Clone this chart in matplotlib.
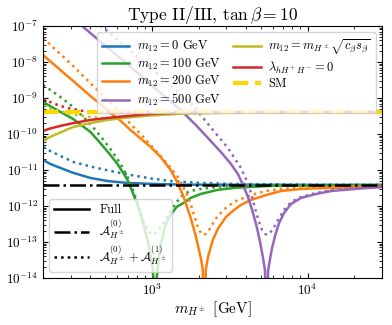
import matplotlib
matplotlib.use("Agg")
import matplotlib.pyplot as plt
from matplotlib.lines import Line2D
from matplotlib.ticker import LogLocator, NullFormatter

plt.rcParams['font.family'] = 'serif'
plt.rcParams['font.serif'] = ['cmr10']
plt.rcParams['mathtext.fontset'] = 'cm'
plt.rcParams['axes.formatter.use_mathtext'] = True

# values (mass in GeV, quantity on log axis)
sm_value = 4.1e-10
a0_value = 3.83e-12
x_range = [200, 30000]

m_blue = [200, 222, 258, 312, 402, 520, 697, 980, 1600, 30800]
blue_full = [1.9e-11, 1.47e-11, 1.14e-11, 8.3e-12, 6.0e-12, 4.9e-12, 4.35e-12, 4.1e-12, 3.9e-12, 3.83e-12]
m_blue_d = [200, 222, 258, 312, 402, 520, 697, 980, 1320, 2060, 3365, 9100, 30800]
blue_dot = [4.35e-11, 3.37e-11, 2.45e-11, 1.67e-11, 1.25e-11, 9.7e-12, 7.5e-12, 5.8e-12, 4.9e-12, 4.35e-12,
            4.1e-12, 3.9e-12, 3.85e-12]

m_green = [200, 258, 312, 402, 466, 541, 600, 647, 697, 750, 808, 871, 938, 980, 1009, 1029, 1048, 1068, 1087,
           1137, 1225, 1320, 1442, 1600, 1775, 2060, 2652, 3365, 4333, 5834, 9100, 30800]
green_full = [7.7e-10, 4.1e-10, 2.6e-10, 1.14e-10, 5.6e-11, 2.6e-11, 1.47e-11, 8.9e-12, 5.3e-12, 2.45e-12,
              1.07e-12, 3.83e-13, 1.14e-13, 4.4e-14, 1.9e-14, 8e-15, 1e-17, 8e-15, 1.67e-14, 8.3e-14, 3.0e-13,
              5.6e-13, 9.4e-13, 1.21e-12, 1.67e-12, 2.15e-12, 2.8e-12, 3.16e-12, 3.37e-12, 3.6e-12, 3.7e-12,
              3.8e-12]
m_green_d = [200, 258, 312, 402, 466, 541, 600, 647, 697, 750, 808, 871, 938, 1009, 1087, 1189, 1320, 1442,
             1600, 1775, 2060, 2652, 3365, 5834, 30800]
green_dot = [2.3e-9, 1.07e-9, 5.6e-10, 1.9e-10, 8.8e-11, 3.83e-11, 2.0e-11, 1.21e-11, 6.4e-12, 2.97e-12,
             1.21e-12, 4.6e-13, 2.15e-13, 1.56e-13, 1.9e-13, 3.37e-13, 7.3e-13, 1.29e-12, 2.15e-12, 2.6e-12,
             2.97e-12, 3.37e-12, 3.6e-12, 3.7e-12, 3.8e-12]

m_orange = [200, 258, 312, 402, 466, 541, 631, 728, 845, 980, 1137, 1320, 1442, 1600, 1775, 1913, 2060, 2123,
            2163, 2218, 2286, 2462, 2652, 2988, 3365, 3733, 4333, 5410, 6760, 9100, 14220, 30800]
orange_full = [1.56e-8, 6.0e-9, 2.97e-9, 1.14e-9, 6.8e-10, 3.83e-10, 2.3e-10, 1.29e-10, 7.5e-11, 4.35e-11,
               2.3e-11, 1.0e-11, 4.9e-12, 1.78e-12, 4.6e-13, 1.47e-13, 3.6e-14, 1.67e-14, 1e-17, 1.67e-14,
               3.6e-14, 1.14e-13, 2.3e-13, 4.9e-13, 7.7e-13, 1.07e-12, 1.47e-12, 2.0e-12, 2.6e-12, 2.97e-12,
               3.16e-12, 3.6e-12]
m_orange_d = [200, 258, 312, 402, 466, 541, 631, 728, 845, 980, 1137, 1320, 1464, 1600, 1698, 1775, 1857, 1941,
              2030, 2123, 2218, 2355, 2500, 2652, 2988, 3365, 3733, 4333, 5410, 6760, 9100, 14220, 30800]
orange_dot = [4.6e-8, 1.67e-8, 7.7e-9, 2.6e-9, 1.38e-9, 7.3e-10, 3.83e-10, 1.9e-10, 1.0e-10, 4.9e-11,
              2.45e-11, 1.14e-11, 6.4e-12, 3.16e-12, 1.9e-12, 1.14e-12, 6.0e-13, 3.16e-13, 2.0e-13, 1.56e-13,
              1.67e-13, 2.3e-13, 3.6e-13, 5.3e-13, 8.8e-13, 1.29e-12, 1.56e-12, 2.0e-12, 2.6e-12, 2.97e-12,
              3.16e-12, 3.37e-12, 3.6e-12]

m_purple = [322, 362, 466, 631, 845, 1137, 1531, 1913, 2320, 2773, 3217, 3569, 3903, 4204, 4461, 4734, 4950,
            5175, 5333, 5457, 5575, 5742, 5916, 6184, 6561, 7068, 7845, 9100, 11370, 14220, 22190, 30800]
purple_full = [1.47e-7, 9.4e-8, 3.7e-8, 1.25e-8, 4.2e-9, 1.38e-9, 4.6e-10, 1.78e-10, 7.3e-11, 3.16e-11,
               1.47e-11, 7.7e-12, 3.37e-12, 1.47e-12, 6.4e-13, 2.45e-13, 1.0e-13, 3.6e-14, 1.56e-14, 1e-17,
               1.56e-14, 3.37e-14, 6.8e-14, 1.47e-13, 3.37e-13, 6.4e-13, 1.14e-12, 1.67e-12, 2.15e-12, 2.6e-12,
               3.06e-12, 3.37e-12]
m_purple_d = [433, 481, 728, 1137, 1775, 2320, 3076, 3733, 4080, 4333, 4668, 4878, 5101, 5333, 5493, 5742, 6100,
              6561, 7068, 7845, 9100, 11370, 14860, 22190, 30800]
purple_dot = [1.38e-7, 9.4e-8, 2.0e-8, 3.9e-9, 7.3e-10, 1.78e-10, 4.1e-11, 1.14e-11, 4.9e-12, 2.3e-12, 6.8e-13,
              3.6e-13, 2.15e-13, 1.67e-13, 1.56e-13, 1.78e-13, 2.6e-13, 4.6e-13, 7.7e-13, 1.29e-12, 1.78e-12,
              2.3e-12, 2.8e-12, 3.16e-12, 3.37e-12]

m_olive = [200, 222, 258, 312, 402, 517, 697, 980, 1600, 3217, 9100, 30800]
olive_full = [6.4e-11, 8.3e-11, 1.1e-10, 1.56e-10, 2.0e-10, 2.45e-10, 2.87e-10, 3.27e-10, 3.72e-10, 3.9e-10,
              4.0e-10, 4.08e-10]
m_olive_d = [200, 222, 258, 312, 402, 517, 697, 980, 1600, 3217, 9100, 30800]
olive_dot = [6.0e-10, 5.1e-10, 4.2e-10, 3.5e-10, 2.97e-10, 2.7e-10, 2.87e-10, 3.27e-10, 3.72e-10, 3.9e-10,
             4.0e-10, 4.08e-10]

m_red = [200, 222, 258, 312, 402, 517, 697, 980, 1600, 3217, 30800]
red_full = [1.21e-10, 1.42e-10, 1.67e-10, 2.0e-10, 2.45e-10, 2.78e-10, 3.16e-10, 3.6e-10, 3.88e-10, 4.0e-10,
            4.08e-10]
m_red_d = [200, 222, 258, 312, 384, 541, 30800]
red_dot = [9.4e-10, 7.7e-10, 6.0e-10, 4.8e-10, 4.2e-10, 4.1e-10, 4.08e-10]

fig = plt.figure(figsize=(3.92, 3.25), dpi=100)
ax = fig.add_axes([0.110, 0.145, 0.864, 0.775])

lw = 1.8
c_blue, c_green, c_orange, c_purple = 'C0', 'C2', 'C1', 'C4'
c_olive, c_red, c_sm = 'C8', 'C3', 'gold'

ax.plot(m_blue, blue_full, color=c_blue, lw=lw)
ax.plot(m_blue_d, blue_dot, color=c_blue, lw=lw, ls=':')
ax.plot(m_green, green_full, color=c_green, lw=lw)
ax.plot(m_green_d, green_dot, color=c_green, lw=lw, ls=':')
ax.plot(m_orange, orange_full, color=c_orange, lw=lw)
ax.plot(m_orange_d, orange_dot, color=c_orange, lw=lw, ls=':')
ax.plot(m_purple, purple_full, color=c_purple, lw=lw)
ax.plot(m_purple_d, purple_dot, color=c_purple, lw=lw, ls=':')
ax.plot(m_olive, olive_full, color=c_olive, lw=lw)
ax.plot(m_olive_d, olive_dot, color=c_olive, lw=lw, ls=':')
ax.plot(m_red, red_full, color=c_red, lw=lw)
ax.plot(m_red_d, red_dot, color=c_red, lw=lw, ls=':')
ax.plot(x_range, [a0_value, a0_value], color='k', lw=lw, ls='-.')
ax.plot(x_range, [sm_value, sm_value], color=c_sm, lw=3, ls='--')

ax.set_xscale('log')
ax.set_yscale('log')
ax.set_xlim(x_range)
ax.set_ylim(1e-14, 1e-7)
ax.yaxis.set_major_locator(LogLocator(base=10, numticks=20))
ax.yaxis.set_minor_locator(LogLocator(base=10, subs=range(2, 10), numticks=20))
ax.yaxis.set_minor_formatter(NullFormatter())
ax.xaxis.set_minor_formatter(NullFormatter())
ax.tick_params(which='both', direction='in', top=True, right=True, labelsize=9.5)

ax.set_xlabel(r'$m_{H^\pm}$ [GeV]', fontsize=11, labelpad=1)
ax.set_title(r'Type II/III, $\tan\beta = 10$', fontsize=12.5, pad=4)

handles1 = [
    Line2D([], [], color=c_blue, lw=lw, label=r'$m_{12} = 0$ GeV'),
    Line2D([], [], color=c_green, lw=lw, label=r'$m_{12} = 100$ GeV'),
    Line2D([], [], color=c_orange, lw=lw, label=r'$m_{12} = 200$ GeV'),
    Line2D([], [], color=c_purple, lw=lw, label=r'$m_{12} = 500$ GeV'),
    Line2D([], [], color=c_olive, lw=lw, label=r'$m_{12} = m_{H^\pm}\sqrt{c_\beta s_\beta}$'),
    Line2D([], [], color=c_red, lw=lw, label=r'$\lambda_{hH^+H^-} = 0$'),
    Line2D([], [], color=c_sm, lw=3, ls='--', label='SM'),
]
leg1 = ax.legend(handles=handles1, loc='upper right', ncol=2, fontsize=9,
                 columnspacing=1.0, handlelength=2.2, handletextpad=0.6, labelspacing=0.2)
ax.add_artist(leg1)

handles2 = [
    Line2D([], [], color='k', lw=lw, label='Full'),
    Line2D([], [], color='k', lw=lw, ls='-.', label=r'$\mathcal{A}^{(0)}_{H^\pm}$'),
    Line2D([], [], color='k', lw=lw, ls=':', label=r'$\mathcal{A}^{(0)}_{H^\pm} + \mathcal{A}^{(1)}_{H^\pm}$'),
]
ax.legend(handles=handles2, loc='lower left', fontsize=9, handlelength=2.8, labelspacing=0.15)

fig.savefig('out.png', dpi=100)
